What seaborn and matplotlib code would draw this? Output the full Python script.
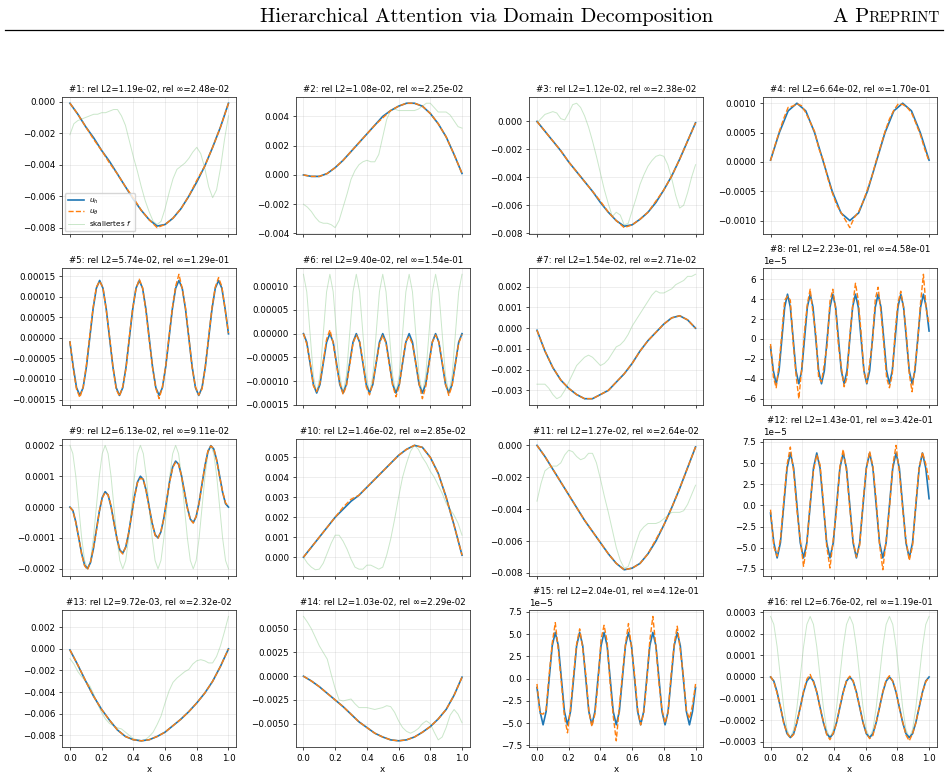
import numpy as np
import matplotlib
matplotlib.use("Agg")
import matplotlib.pyplot as plt
import seaborn as sns
from matplotlib.lines import Line2D

# error numbers shown in the subplot titles
rel_l2 = [1.19e-02, 1.08e-02, 1.12e-02, 6.64e-02, 5.74e-02, 9.40e-02, 1.54e-02, 2.23e-01,
          6.13e-02, 1.46e-02, 1.27e-02, 1.43e-01, 9.72e-03, 1.03e-02, 2.04e-01, 6.76e-02]
rel_inf = [2.48e-02, 2.25e-02, 2.38e-02, 1.70e-01, 1.29e-01, 1.54e-01, 2.71e-02, 4.58e-01,
           9.11e-02, 2.85e-02, 2.64e-02, 3.42e-01, 2.32e-02, 2.29e-02, 4.12e-01, 1.19e-01]

uh1 = [-0.0001, -0.0008, -0.0016, -0.0023, -0.0031, -0.0038, -0.0046, -0.0054, -0.0062, -0.0069, -0.0075,
       -0.0079, -0.0078, -0.0074, -0.0068, -0.0060, -0.0051, -0.0041, -0.0029, -0.0016, -0.0001]
ut1 = [-0.0001, -0.0008, -0.0016, -0.0024, -0.0031, -0.0039, -0.0046, -0.0054, -0.0061, -0.0069, -0.0075,
       -0.0080, -0.0078, -0.0074, -0.0068, -0.0060, -0.0050, -0.0041, -0.0029, -0.0016, -0.0001]
f1 = [-0.0021, -0.0014, -0.0012, -0.0011, -0.0010, -0.0009, -0.0008, -0.0008, -0.0007, -0.0007, -0.0006,
      -0.0005, -0.0005, -0.0009, -0.0015, -0.0025, -0.0035, -0.0044, -0.0054, -0.0063, -0.0070,
      -0.0076, -0.0078, -0.0076, -0.0068, -0.0058, -0.0049, -0.0043, -0.0041, -0.0039, -0.0036,
      -0.0032, -0.0029, -0.0033, -0.0042, -0.0054, -0.0061, -0.0056, -0.0042, -0.0024, -0.0009]

uh2 = [0.0000, -0.0001, -0.0001, 0.0001, 0.0005, 0.0010, 0.0016, 0.0022, 0.0028, 0.0034, 0.0040,
       0.0044, 0.0047, 0.0049, 0.0049, 0.0047, 0.0042, 0.0035, 0.0026, 0.0014, 0.0001]
ut2 = [0.0000, -0.0001, -0.0001, 0.0001, 0.0005, 0.0010, 0.0016, 0.0022, 0.0028, 0.0034, 0.0039,
       0.0044, 0.0047, 0.0049, 0.0049, 0.0047, 0.0042, 0.0035, 0.0026, 0.0014, 0.0001]
f2 = [-0.0020, -0.0022, -0.0025, -0.0029, -0.0032, -0.0033, -0.0033, -0.0034, -0.0036, -0.0031, -0.0022,
      -0.0013, -0.0003, 0.0003, 0.0007, 0.0009, 0.0010, 0.0009, 0.0009, 0.0014, 0.0026,
      0.0038, 0.0044, 0.0045, 0.0044, 0.0044, 0.0044, 0.0044, 0.0044, 0.0045, 0.0047,
      0.0049, 0.0049, 0.0046, 0.0043, 0.0043, 0.0043, 0.0041, 0.0037, 0.0033, 0.0032]

uh3 = [0.0000, -0.0007, -0.0014, -0.0021, -0.0029, -0.0036, -0.0043, -0.0050, -0.0058, -0.0065, -0.0071,
       -0.0075, -0.0074, -0.0070, -0.0065, -0.0058, -0.0049, -0.0039, -0.0027, -0.0014, -0.0001]
ut3 = [0.0000, -0.0007, -0.0014, -0.0021, -0.0029, -0.0036, -0.0043, -0.0050, -0.0057, -0.0065, -0.0071,
       -0.0076, -0.0074, -0.0070, -0.0065, -0.0057, -0.0049, -0.0039, -0.0027, -0.0014, -0.0001]
f3 = [-0.0001, 0.0002, 0.0005, 0.0006, 0.0007, 0.0006, 0.0002, 0.0001, 0.0006, 0.0012, 0.0013,
      0.0010, 0.0004, -0.0004, -0.0014, -0.0025, -0.0037, -0.0049, -0.0059, -0.0068, -0.0065,
      -0.0067, -0.0074, -0.0073, -0.0064, -0.0055, -0.0045, -0.0038, -0.0032, -0.0028, -0.0025,
      -0.0024, -0.0025, -0.0031, -0.0041, -0.0053, -0.0062, -0.0060, -0.0051, -0.0040, -0.0031]

uh4 = np.array([0.03, 0.5, 0.87, 1.0, 0.87, 0.5, 0.0, -0.5, -0.87, -1.0, -0.87, -0.5, 0.0,
                0.5, 0.87, 1.0, 0.87, 0.5, 0.03]) * 1e-3
ut4 = np.array([0.02, 0.28, 0.52, 0.74, 0.93, 0.95, 0.99, 0.96, 0.84, 0.68, 0.52, 0.22, 0.03,
                -0.28, -0.52, -0.73, -0.86, -0.99, -1.12, -0.95, -0.85, -0.68, -0.47, -0.25, 0.02,
                0.27, 0.52, 0.73, 0.88, 0.99, 0.98, 0.93, 0.84, 0.66, 0.47, 0.22, 0.01]) * 1e-3

uh5 = np.array([-1.0, -7.0, -12.1, -14.0, -12.1, -7.0, 0.0, 7.0, 12.1, 14.0, 12.1, 7.0,
                0.0, -7.0, -12.1, -14.0, -12.1, -7.0, 0.0, 7.0, 12.1, 14.0, 12.1, 7.0,
                0.0, -7.0, -12.1, -14.0, -12.1, -7.0, 0.0, 7.0, 12.1, 14.0, 12.1, 7.0,
                0.0, -7.0, -12.1, -14.0, -12.1, -7.0, 0.0, 7.0, 12.1, 14.0, 12.1, 7.0, 1.0]) * 1e-5
ut5 = np.array([-0.8, -7.5, -12.5, -14.5, -12.0, -6.5, 0.5, 7.3, 12.4, 13.8, 12.3, 6.8,
                0.3, -6.8, -12.5, -14.2, -11.8, -7.3, 0.4, 7.2, 12.0, 14.3, 12.2, 6.6,
                -0.4, -7.2, -12.3, -14.8, -12.0, -6.8, 0.3, 7.3, 12.6, 15.5, 12.0, 7.2,
                0.2, -7.3, -11.9, -13.9, -12.4, -6.8, 0.2, 7.4, 12.4, 14.7, 12.5, 6.8, 1.2]) * 1e-5

uh6 = np.array([0, -18, -62, -107, -125, -107, -62, -18, 0, -18, -62, -107, -125, -107, -62, -18,
                0, -18, -62, -107, -125, -107, -62, -18, 0, -18, -62, -107, -125, -107, -62, -18,
                0, -18, -62, -107, -125, -107, -62, -18, 0, -18, -62, -107, -125, -107, -62, -18, 0]) * 1e-6
ut6 = np.array([0, -22, -60, -110, -122, -104, -58, -12, 8, -20, -66, -104, -128, -110, -66, -20,
                -3, -16, -60, -112, -129, -104, -62, -22, -4, -20, -66, -108, -133, -110, -60, -16,
                -6, -22, -62, -104, -137, -112, -66, -18, -3, -18, -60, -106, -130, -110, -64, -20, -2]) * 1e-6
f6 = np.array([125, 88, 0, -88, -125, -88, 0, 88, 125, 88, 0, -88, -125, -88, 0, 88,
               125, 88, 0, -88, -125, -88, 0, 88, 125, 88, 0, -88, -125, -88, 0, 88,
               125, 88, 0, -88, -125, -88, 0, 88, 125, 88, 0, -88, -125, -88, 0, 88, 125]) * 1e-6

uh7 = [-0.0001, -0.0011, -0.0019, -0.0025, -0.0029, -0.0032, -0.0034, -0.0034, -0.0032, -0.0030, -0.0026,
       -0.0022, -0.0017, -0.0011, -0.0006, -0.0002, 0.0002, 0.0005, 0.0006, 0.0004, 0.0000]
ut7 = [-0.0001, -0.0011, -0.0019, -0.0025, -0.0029, -0.0032, -0.0034, -0.0034, -0.0032, -0.0030, -0.0026,
       -0.0022, -0.0017, -0.0011, -0.0006, -0.0002, 0.0002, 0.0005, 0.0006, 0.0004, 0.0000]
f7 = [-0.0027, -0.0027, -0.0027, -0.0029, -0.0032, -0.0034, -0.0033, -0.0030, -0.0026, -0.0022, -0.0018,
      -0.0016, -0.0014, -0.0013, -0.0014, -0.0016, -0.0018, -0.0017, -0.0015, -0.0012, -0.0009,
      -0.0008, -0.0006, -0.0003, 0.0001, 0.0004, 0.0007, 0.0010, 0.0013, 0.0016, 0.0018,
      0.0017, 0.0017, 0.0018, 0.0019, 0.0021, 0.0022, 0.0023, 0.0025, 0.0025, 0.0026]

uh8 = np.array([-0.8, -3.2, -4.5, -3.2, 0.0, 3.2, 4.5, 3.2, 0.0, -3.2, -4.5, -3.2, 0.0, 3.2, 4.5, 3.2,
                0.0, -3.2, -4.5, -3.2, 0.0, 3.2, 4.5, 3.2, 0.0, -3.2, -4.5, -3.2, 0.0, 3.2, 4.5, 3.2,
                0.0, -3.2, -4.5, -3.2, 0.0, 3.2, 4.5, 3.2, 0.0, -3.2, -4.5, -3.2, 0.0, 3.2, 4.5, 3.2,
                0.0, -3.2, -4.5, -3.2, 0.0, 3.2, 4.5, 3.2, 0.8]) * 1e-5
ut8 = np.array([-0.5, -3.8, -4.9, -2.6, 0.6, 3.9, 4.3, 3.9, -0.4, -3.6, -6.0, -3.0, 0.8, 3.5, 5.0, 2.6,
                0.5, -3.9, -4.3, -2.5, -0.6, 3.8, 5.0, 3.0, -0.7, -2.8, -4.8, -3.9, 0.3, 3.3, 5.6, 3.9,
                0.6, -3.4, -4.4, -2.5, -0.3, 4.0, 5.2, 2.7, -0.5, -3.9, -4.9, -3.6, 0.7, 3.6, 4.8, 3.1,
                0.4, -3.5, -5.3, -2.8, -0.2, 3.7, 6.5, 3.0, 1.5]) * 1e-5

uh9 = np.array([0, -11, -48, -100, -151, -188, -199, -180, -135, -75, -15, 31,
                50, 39, 2, -50, -102, -139, -149, -130, -85, -25, 35, 81,
                100, 89, 52, 0, -52, -89, -100, -80, -35, 25, 85, 130,
                149, 139, 102, 50, -2, -39, -50, -31, 15, 75, 135, 180,
                199, 188, 152, 100, 48, 11, 0]) * 1e-6
ut9 = np.array([0, -12, -50, -98, -153, -190, -203, -178, -132, -77, -14, 29,
                47, 40, 4, -52, -100, -141, -152, -128, -83, -27, 33, 79,
                93, 90, 50, -3, -50, -92, -101, -78, -37, 27, 83, 128,
                145, 140, 100, 48, -4, -40, -52, -29, 13, 77, 133, 182,
                198, 190, 150, 97, 50, 14, 2]) * 1e-6
f9 = np.array([200, 173, 100, 0, -100, -173, -200, -173, -100, 0, 100, 173,
               200, 173, 100, 0, -100, -173, -200, -173, -100, 0, 100, 173,
               200, 173, 100, 0, -100, -173, -200, -173, -100, 0, 100, 173,
               200, 173, 100, 0, -100, -173, -200, -173, -100, 0, 100, 173,
               200, 173, 100, 0, -100, -173, -200]) * 1e-6

uh10 = [0.0000, 0.0005, 0.0010, 0.0015, 0.0020, 0.0024, 0.0028, 0.0031, 0.0035, 0.0039, 0.0043,
        0.0047, 0.0051, 0.0054, 0.0056, 0.0055, 0.0050, 0.0042, 0.0030, 0.0016, 0.0001]
ut10 = [0.0000, 0.0005, 0.0010, 0.0015, 0.0020, 0.0025, 0.0029, 0.0031, 0.0035, 0.0039, 0.0043,
        0.0047, 0.0051, 0.0054, 0.0056, 0.0055, 0.0050, 0.0042, 0.0030, 0.0016, 0.0001]
f10 = [0.0000, -0.0003, -0.0005, -0.00063, -0.0006, -0.0003, 0.0002, 0.0007, 0.0011, 0.0011, 0.0008,
       0.0004, -0.0001, -0.0005, -0.0006, -0.0006, -0.0004, -0.0004, -0.0005, -0.0006, -0.0005,
       0.0001, 0.0009, 0.0019, 0.0030, 0.0040, 0.0047, 0.0053, 0.0056, 0.0054, 0.0050,
       0.0047, 0.0043, 0.0040, 0.0036, 0.0032, 0.0027, 0.0024, 0.0021, 0.0017, 0.0011]

uh11 = [0.0000, -0.0007, -0.0015, -0.0023, -0.0031, -0.0039, -0.0047, -0.0054, -0.0061, -0.0068, -0.0074,
        -0.0078, -0.0077, -0.0074, -0.0068, -0.0060, -0.0050, -0.0039, -0.0027, -0.0014, -0.0001]
ut11 = [0.0000, -0.0007, -0.0015, -0.0023, -0.0031, -0.0039, -0.0047, -0.0054, -0.0061, -0.0068, -0.0074,
        -0.0078, -0.0077, -0.0074, -0.0068, -0.0059, -0.0050, -0.0039, -0.0027, -0.0014, -0.0001]
f11 = [-0.0035, -0.0024, -0.0016, -0.0014, -0.0013, -0.0013, -0.0011, -0.0006, -0.0003, -0.0004, -0.0007,
       -0.0009, -0.0008, -0.0005, -0.0005, -0.0011, -0.0021, -0.0032, -0.0042, -0.0053, -0.0064,
       -0.0072, -0.0077, -0.0076, -0.0069, -0.0061, -0.0054, -0.0051, -0.0049, -0.0049, -0.0049,
       -0.0048, -0.0046, -0.0044, -0.0042, -0.0042, -0.0042, -0.0041, -0.0037, -0.0031, -0.0025]

uh12 = np.array([-0.9, -4.4, -6.2, -4.4, 0.0, 4.4, 6.2, 4.4, 0.0, -4.4, -6.2, -4.4, 0.0, 4.4, 6.2, 4.4,
                 0.0, -4.4, -6.2, -4.4, 0.0, 4.4, 6.2, 4.4, 0.0, -4.4, -6.2, -4.4, 0.0, 4.4, 6.2, 4.4,
                 0.0, -4.4, -6.2, -4.4, 0.0, 4.4, 6.2, 4.4, 0.0, -4.4, -6.2, -4.4, 0.0, 4.4, 6.2, 4.4, 0.8]) * 1e-5
ut12 = np.array([-0.5, -4.9, -6.0, -4.0, 0.5, 4.8, 6.9, 4.0, -0.6, -4.0, -7.2, -4.6, 0.3, 4.1, 6.0, 4.8,
                 0.4, -4.8, -7.4, -4.0, -0.5, 4.6, 6.6, 4.1, -0.3, -4.2, -6.1, -4.7, 0.4, 4.3, 6.4, 4.6,
                 0.5, -4.6, -7.6, -4.1, -0.4, 4.7, 7.1, 4.0, -0.4, -4.1, -6.5, -4.8, 0.3, 4.5, 6.3, 4.9, 3.0]) * 1e-5

uh13 = [-0.0001, -0.0015, -0.0030, -0.0044, -0.0056, -0.0066, -0.0075, -0.0081, -0.0084, -0.0085, -0.0084,
        -0.0081, -0.0077, -0.0071, -0.0065, -0.0058, -0.0050, -0.0041, -0.0030, -0.0016, 0.0000]
ut13 = [-0.0001, -0.0015, -0.0030, -0.0044, -0.0056, -0.0066, -0.0075, -0.0081, -0.0084, -0.0085, -0.0084,
        -0.0081, -0.0077, -0.0071, -0.0065, -0.0058, -0.0050, -0.0041, -0.0030, -0.0016, 0.0000]
f13 = [-0.0009, -0.0014, -0.0021, -0.0026, -0.0030, -0.0034, -0.0042, -0.0051, -0.0059, -0.0065, -0.0069,
       -0.0071, -0.0073, -0.0074, -0.0077, -0.0080, -0.0083, -0.0084, -0.0085, -0.0084, -0.0081,
       -0.0077, -0.0070, -0.0062, -0.0050, -0.0039, -0.0031, -0.0027, -0.0024, -0.0021, -0.0019,
       -0.0014, -0.0011, -0.0010, -0.0011, -0.0013, -0.0013, -0.0007, 0.0003, 0.0016, 0.0030]

uh14 = [0.0000, -0.0005, -0.0011, -0.0018, -0.0025, -0.0032, -0.0040, -0.0048, -0.0054, -0.0060, -0.0064,
        -0.0067, -0.0068, -0.0067, -0.0064, -0.0059, -0.0053, -0.0045, -0.0035, -0.0020, -0.0001]
ut14 = [0.0000, -0.0005, -0.0011, -0.0018, -0.0025, -0.0032, -0.0040, -0.0048, -0.0054, -0.0060, -0.0064,
        -0.0067, -0.0068, -0.0067, -0.0064, -0.0059, -0.0053, -0.0045, -0.0035, -0.0020, -0.0001]
f14 = [0.0063, 0.0057, 0.0050, 0.0041, 0.0032, 0.0025, 0.0018, 0.0002, -0.0013, -0.0025, -0.0026,
       -0.0025, -0.0024, -0.0029, -0.0033, -0.0033, -0.0033, -0.0034, -0.0035, -0.0034, -0.0033,
       -0.0031, -0.0032, -0.0038, -0.0047, -0.0054, -0.0058, -0.0060, -0.0058, -0.0055, -0.0050,
       -0.0047, -0.0050, -0.0059, -0.0067, -0.0064, -0.0054, -0.0041, -0.0035, -0.0040, -0.0049]

uh15 = np.array([-1.0, -3.7, -5.2, -3.7, 0.0, 3.7, 5.2, 3.7, 0.0, -3.7, -5.2, -3.7, 0.0, 3.7, 5.2, 3.7,
                 0.0, -3.7, -5.2, -3.7, 0.0, 3.7, 5.2, 3.7, 0.0, -3.7, -5.2, -3.7, 0.0, 3.7, 5.2, 3.7,
                 0.0, -3.7, -5.2, -3.7, 0.0, 3.7, 5.2, 3.7, 0.0, -3.7, -5.2, -3.7, 0.0, 3.7, 5.2, 3.7,
                 0.0, -3.7, -5.2, -3.7, -1.0]) * 1e-5
ut15 = np.array([-0.6, -3.9, -4.0, -3.5, 0.5, 4.0, 6.3, 3.2, -0.5, -4.3, -6.1, -3.3, 0.4, 3.9, 5.6, 3.4,
                 0.5, -3.6, -5.4, -4.0, -0.5, 4.4, 6.0, 4.2, -0.6, -4.2, -7.0, -3.2, 0.4, 3.8, 6.2, 3.5,
                 0.4, -3.4, -5.2, -3.9, -0.3, 4.3, 7.0, 3.6, -0.5, -3.5, -5.0, -3.8, 0.5, 3.9, 5.9, 3.2,
                 0.3, -3.6, -4.5, -3.0, -0.6]) * 1e-5

uh16 = np.array([0, -19, -70, -140, -210, -262, -280, -262, -210, -140, -70, -19,
                 0, -19, -70, -140, -210, -262, -280, -262, -210, -140, -70, -19,
                 0, -19, -70, -140, -210, -262, -280, -262, -210, -140, -70, -19,
                 0, -19, -70, -140, -210, -262, -280, -262, -210, -140, -70, -19, 0]) * 1e-6
ut16 = np.array([3, -22, -75, -136, -214, -258, -282, -266, -206, -144, -66, -10,
                 12, -24, -68, -145, -205, -266, -290, -258, -214, -136, -72, -16,
                 4, -17, -72, -138, -212, -260, -285, -270, -208, -142, -68, -14,
                 6, -20, -66, -144, -207, -268, -295, -262, -212, -137, -71, -22, -2]) * 1e-6
f16 = np.array([280, 243, 140, 0, -140, -243, -280, -243, -140, 0, 140, 243,
                280, 243, 140, 0, -140, -243, -280, -243, -140, 0, 140, 243,
                280, 243, 140, 0, -140, -243, -280, -243, -140, 0, 140, 243,
                280, 243, 140, 0, -140, -243, -280, -243, -140, 0, 140, 243, 280]) * 1e-6

panels = [(uh1, ut1, f1), (uh2, ut2, f2), (uh3, ut3, f3), (uh4, ut4, None),
          (uh5, ut5, None), (uh6, ut6, f6), (uh7, ut7, f7), (uh8, ut8, None),
          (uh9, ut9, f9), (uh10, ut10, f10), (uh11, ut11, f11), (uh12, ut12, None),
          (uh13, ut13, f13), (uh14, ut14, f14), (uh15, ut15, None), (uh16, ut16, f16)]

plt.rcParams.update({
    "font.size": 6.3,
    "axes.titlesize": 6.2,
    "axes.titlepad": 3.5,
    "xtick.labelsize": 6.3,
    "ytick.labelsize": 6.3,
    "axes.linewidth": 0.6,
    "axes.edgecolor": "#333333",
    "xtick.major.size": 2.2,
    "ytick.major.size": 2.2,
    "xtick.major.width": 0.5,
    "ytick.major.width": 0.5,
    "xtick.major.pad": 2.5,
    "ytick.major.pad": 2.5,
})

fig, axes = plt.subplots(4, 4, figsize=(9.48, 7.78), dpi=100, sharex=True)
fig.subplots_adjust(left=0.0654, right=0.9884, top=0.8753, bottom=0.0398, wspace=0.339, hspace=0.25)

for i, (ax, (uh, ut, f)) in enumerate(zip(axes.flat, panels)):
    first = i == 0
    sns.lineplot(x=np.linspace(0, 1, len(uh)), y=uh, ax=ax, color="#1f77b4", linewidth=1.2,
                 label=r"$u_h$" if first else None)
    sns.lineplot(x=np.linspace(0, 1, len(ut)), y=ut, ax=ax, color="#ff7f0e", linewidth=1.0,
                 linestyle="--", label=r"$u_\theta$" if first else None)
    if f is not None:
        sns.lineplot(x=np.linspace(0, 1, len(f)), y=f, ax=ax, color="#2ca02c", linewidth=0.7,
                     alpha=0.25, zorder=1, label="skaliertes $f$" if first else None)
    ax.grid(True, color="#b0b0b0", alpha=0.3, linewidth=0.5)
    ax.set_title(f"#{i + 1}: rel L2={rel_l2[i]:.2e}, rel \u221e={rel_inf[i]:.2e}")
    ax.set_xticks([0.0, 0.2, 0.4, 0.6, 0.8, 1.0])
    if i >= 12:
        ax.set_xlabel("x", fontsize=6.3, labelpad=2)
    if first:
        ax.legend(loc="lower left", fontsize=5.2, handlelength=2.2, borderpad=0.4,
                  labelspacing=0.3, borderaxespad=0.4)
    elif ax.get_legend() is not None:
        ax.get_legend().remove()

# page header
fig.text(0.5137, 0.9717, "Hierarchical Attention via Domain Decomposition", family="cmr10",
         size=14.8, ha="center", va="baseline")
t2 = fig.text(0.9916, 0.9717, "REPRINT", family="cmr10", size=11, ha="right", va="baseline")
fig.canvas.draw()
bb = t2.get_window_extent()
fig.text(bb.x0 / fig.bbox.width, 0.9717, "A P", family="cmr10", size=14.8, ha="right", va="baseline")
fig.add_artist(Line2D([0.005, 0.995], [0.9608, 0.9608], transform=fig.transFigure, color="black", linewidth=0.9))

fig.savefig("out.png", dpi=100)
